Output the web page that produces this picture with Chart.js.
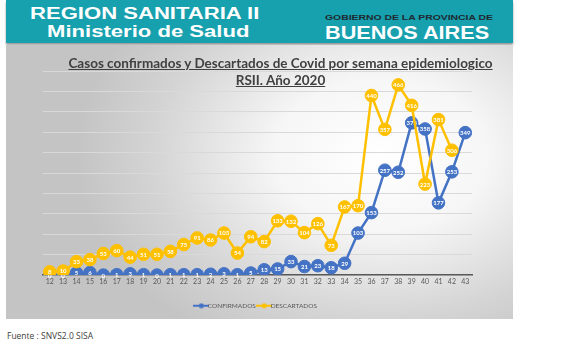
<!DOCTYPE html>
<html>
<head>
<meta charset="utf-8">
<script src="https://cdn.jsdelivr.net/npm/chart.js@4.4.0/dist/chart.umd.min.js"></script>
<style>
  body { margin: 0; width: 567px; height: 344px; background: #fff; position: relative; overflow: hidden; font-family: Arial, "Liberation Sans", sans-serif; }
  #header { position: absolute; left: 6px; top: 0; width: 507px; height: 43px; background: #17a0ae; box-shadow: 0 2px 2px #9a9a9a; }
  .h1 { position: absolute; color: #fff; font-weight: bold; font-size: 16px; white-space: nowrap; transform: scaleX(1.38); transform-origin: left top; }
  .gob { position: absolute; left: 319px; top: 13px; font-size: 8px; font-weight: bold; color: #1d2a30; white-space: nowrap; transform: scaleX(1.3); transform-origin: left top; }
  .ba { position: absolute; left: 319px; top: 22px; font-size: 19px; font-weight: bold; color: #fff; white-space: nowrap; transform: scaleX(1.14); transform-origin: left top; }
  #panel { position: absolute; left: 6px; top: 45px; width: 507px; height: 274px;
    background: radial-gradient(ellipse 60% 80% at 74% 40%, #ffffff 0%, #f6f6f6 35%, #d4d4d4 75%, #c4c4c4 100%); }
  #title { position: absolute; left: 21px; top: 10px; width: 507px; text-align: center; font-family: Lato, sans-serif; font-weight: bold; font-size: 13.5px; line-height: 17px; color: #404040; text-decoration: underline; white-space: nowrap; }
  #fuente { position: absolute; left: 7px; top: 330px; font-family: "Open Sans", sans-serif; font-size: 8.5px; color: #404040; }
  canvas { position: absolute; left: 0; top: 0; }
</style>
</head>
<body>
<div id="header">
  <div class="h1" style="left:24px; top:5px;">REGION SANITARIA II</div>
  <div class="h1" style="left:41px; top:23px;">Ministerio de Salud</div>
  <div class="gob">GOBIERNO DE LA PROVINCIA DE</div>
  <div class="ba">BUENOS AIRES</div>
</div>
<div id="panel">
  <canvas id="casosChart" width="507" height="274"></canvas>
  <div id="title">Casos confirmados y Descartados de Covid por semana epidemiologico<br>RSII. Año 2020</div>
</div>
<div id="fuente">Fuente : SNVS2.0 SISA</div>
<script>
var semanas = ['12','13','14','15','16','17','18','19','20','21','22','23','24','25','26','27',
  '28','29','30','31','32','33','34','35','36','37','38','39','40','41','42','43'];
var confirmados = [0, 0, 5, 6, 0, 1, 3, 1, 0, 1, 1, 1, 2, 3, 1, 5,
  13, 15, 33, 21, 23, 18, 29, 103, 153, 257, 252, 373, 358, 177, 253, 349];
var descartados = [8, 10, 33, 38, 53, 60, 44, 51, 51, 58, 75, 91, 86, 103, 54, 94,
  82, 133, 132, 104, 126, 73, 167, 170, 440, 357, 466, 416, 223, 381, 306, null];

var azul = '#4472c4';
var amarillo = '#ffc000';

function marker(color) {
  var c = document.createElement('canvas');
  c.width = 16; c.height = 6;
  var x = c.getContext('2d');
  x.strokeStyle = color; x.lineWidth = 2;
  x.beginPath(); x.moveTo(0, 3); x.lineTo(16, 3); x.stroke();
  x.fillStyle = color;
  x.beginPath(); x.arc(8, 3, 2.5, 0, Math.PI * 2); x.fill();
  return c;
}

var etiquetas = {
  id: 'etiquetas',
  afterDatasetDraw: function(chart, args) {
    var ctx = chart.ctx;
    var ds = chart.data.datasets[args.index];
    ctx.save();
    ctx.font = 'bold 6px Lato, sans-serif';
    ctx.fillStyle = '#fff';
    ctx.textAlign = 'center';
    ctx.textBaseline = 'middle';
    args.meta.data.forEach(function(pt, i) {
      if (ds.data[i] == null) return;
      ctx.fillText(ds.data[i], pt.x, pt.y + 0.5);
    });
    ctx.restore();
  }
};

document.addEventListener('DOMContentLoaded', function() {
  var ctx = document.getElementById('casosChart').getContext('2d');
  new Chart(ctx, {
    type: 'line',
    data: {
      labels: semanas,
      datasets: [{
        label: 'CONFIRMADOS',
        data: confirmados,
        borderColor: azul,
        backgroundColor: azul,
        pointBackgroundColor: azul,
        pointBorderColor: azul,
        borderWidth: 2.5,
        pointRadius: 6.3,
        pointBorderWidth: 1,
        order: 1
      }, {
        label: 'DESCARTADOS',
        data: descartados,
        borderColor: amarillo,
        backgroundColor: amarillo,
        pointBackgroundColor: amarillo,
        pointBorderColor: amarillo,
        borderWidth: 2.5,
        pointRadius: 6.3,
        pointBorderWidth: 1,
        order: 0
      }]
    },
    options: {
      responsive: false,
      animation: false,
      layout: { padding: { left: 37, right: 41, top: 26, bottom: 0 } },
      scales: {
        x: {
          offset: true,
          grid: { display: false, drawTicks: false },
          border: { color: '#595959', width: 1.5 },
          ticks: { color: '#595959', font: { size: 7, family: 'Lato, sans-serif' }, padding: 2, maxRotation: 0, autoSkip: false },
          afterFit: function(scale) { scale.height += 10; }
        },
        y: {
          min: 0,
          max: 500,
          ticks: { stepSize: 50, display: false },
          grid: { color: '#d9d9d9', lineWidth: 1, drawTicks: false },
          border: { display: false }
        }
      },
      plugins: {
        legend: {
          position: 'bottom',
          labels: {
            usePointStyle: true,
            color: '#595959',
            font: { size: 6.5, family: 'Lato, sans-serif' },
            padding: 5,
            sort: function(a, b) { return a.datasetIndex - b.datasetIndex; },
            generateLabels: function(chart) {
              var items = Chart.defaults.plugins.legend.labels.generateLabels(chart);
              items.forEach(function(it) {
                it.pointStyle = marker(it.datasetIndex === 0 ? azul : amarillo);
              });
              return items;
            }
          }
        },
        tooltip: { enabled: false }
      }
    },
    plugins: [etiquetas]
  });
});
</script>
</body>
</html>
